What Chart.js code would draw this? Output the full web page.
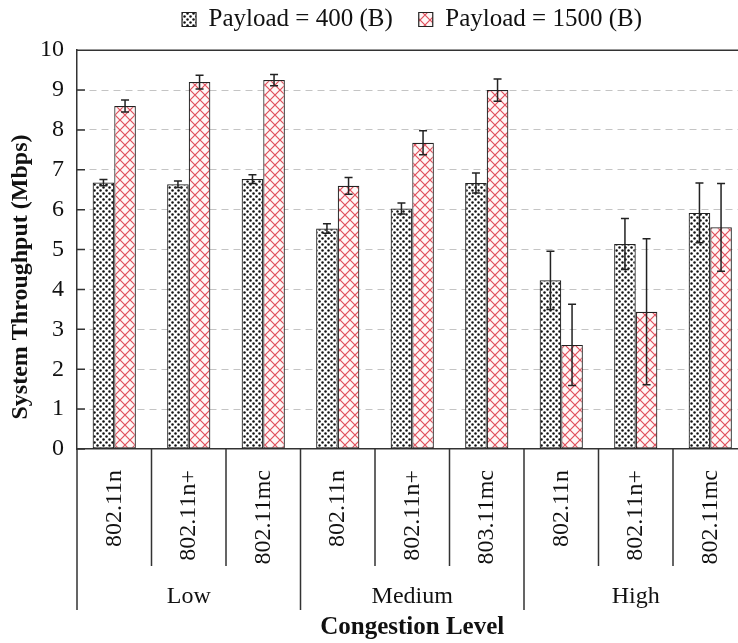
<!DOCTYPE html>
<html>
<head>
<meta charset="utf-8">
<script src="https://cdn.jsdelivr.net/npm/chart.js@4.4.1/dist/chart.umd.min.js"></script>
<style>
  html, body { margin: 0; padding: 0; overflow: hidden; background: #fff; }
</style>
</head>
<body>
<canvas id="tputChart" width="824" height="643"></canvas>
<script>
// categories (note: the original figure really says 803.11mc)
const protocols = ['802.11n', '802.11n+', '802.11mc', '802.11n', '802.11n+', '803.11mc', '802.11n', '802.11n+', '802.11mc'];
const congestionLevels = ['Low', 'Medium', 'High'];

// throughput (Mbps) and error bars
const payload400 = [6.68, 6.64, 6.77, 5.53, 6.03, 6.67, 4.23, 5.14, 5.92];
const err400 = [0.08, 0.08, 0.11, 0.12, 0.14, 0.25, 0.73, 0.64, 0.75];
const payload1500 = [8.6, 9.2, 9.25, 6.6, 7.68, 9.0, 2.61, 3.44, 5.56];
const err1500 = [0.15, 0.17, 0.14, 0.21, 0.3, 0.28, 1.02, 1.83, 1.1];

const yTicks = [0, 1, 2, 3, 4, 5, 6, 7, 8, 9, 10];

const serif = "'Liberation Serif', 'Times New Roman', serif";
Chart.defaults.font.family = serif;
Chart.defaults.color = '#111';

// stipple pattern for the 400 B bars
function dotPattern() {
    const c = document.createElement('canvas');
    c.width = 6; c.height = 6;
    const g = c.getContext('2d');
    g.fillStyle = '#fff';
    g.fillRect(0, 0, 6, 6);
    g.fillStyle = '#111';
    [[1.5, 1.5], [4.5, 4.5]].forEach(([x, y]) => {
        g.beginPath();
        g.arc(x, y, 1.25, 0, Math.PI * 2);
        g.fill();
    });
    return g.createPattern(c, 'repeat');
}

// red cross-hatch for the 1500 B bars
function hatchPattern() {
    const s = 10;
    const c = document.createElement('canvas');
    c.width = s; c.height = s;
    const g = c.getContext('2d');
    g.fillStyle = '#fff7f7';
    g.fillRect(0, 0, s, s);
    g.strokeStyle = '#e0505c';
    g.lineWidth = 1.2;
    g.beginPath();
    g.moveTo(0, 0); g.lineTo(s, s);
    g.moveTo(s, 0); g.lineTo(0, s);
    g.stroke();
    return g.createPattern(c, 'repeat');
}

// error bars on top of each bar
const errorBars = {
    id: 'errorBars',
    afterDatasetsDraw(chart) {
        const ctx = chart.ctx;
        const y = chart.scales.y;
        [err400, err1500].forEach((errs, di) => {
            const vals = chart.data.datasets[di].data;
            chart.getDatasetMeta(di).data.forEach((bar, i) => {
                const top = y.getPixelForValue(vals[i] + errs[i]);
                const bot = y.getPixelForValue(vals[i] - errs[i]);
                ctx.save();
                ctx.strokeStyle = '#222';
                ctx.lineWidth = 1.5;
                ctx.beginPath();
                ctx.moveTo(bar.x, top); ctx.lineTo(bar.x, bot);
                ctx.moveTo(bar.x - 4, top); ctx.lineTo(bar.x + 4, top);
                ctx.moveTo(bar.x - 4, bot); ctx.lineTo(bar.x + 4, bot);
                ctx.stroke();
                ctx.restore();
            });
        });
    }
};

// table-like x axis, top border, inner ticks and the y title
const axisFrame = {
    id: 'axisFrame',
    afterDraw(chart) {
        const ctx = chart.ctx;
        const x = chart.scales.x;
        const y = chart.scales.y;
        const area = chart.chartArea;
        const step = x.getPixelForValue(1) - x.getPixelForValue(0);
        ctx.save();
        ctx.strokeStyle = '#333';
        ctx.lineWidth = 1.5;
        ctx.beginPath();
        // top border
        ctx.moveTo(area.left, area.top); ctx.lineTo(area.right, area.top);
        // inward tick marks
        yTicks.forEach(v => {
            const py = y.getPixelForValue(v);
            ctx.moveTo(area.left, py); ctx.lineTo(area.left + 8, py);
        });
        // category dividers under the axis
        for (let i = 0; i <= protocols.length; i++) {
            const px = x.getPixelForValue(i) - step / 2;
            const len = i % 3 === 0 ? 161 : 117;
            ctx.moveTo(px, area.bottom); ctx.lineTo(px, area.bottom + len);
        }
        ctx.stroke();

        // group labels
        ctx.fillStyle = '#111';
        ctx.font = '24px ' + serif;
        ctx.textAlign = 'center';
        ctx.textBaseline = 'middle';
        congestionLevels.forEach((lvl, gi) => {
            const cx = (x.getPixelForValue(gi * 3) + x.getPixelForValue(gi * 3 + 2)) / 2;
            ctx.fillText(lvl, cx, area.bottom + 148);
        });

        // y axis title
        ctx.font = 'bold 24px ' + serif;
        ctx.translate(21, 277);
        ctx.rotate(-Math.PI / 2);
        ctx.fillText('System Throughput (Mbps)', 0, 0);
        ctx.restore();
    }
};

const ctx = document.getElementById('tputChart').getContext('2d');
new Chart(ctx, {
    type: 'bar',
    data: {
        labels: protocols,
        datasets: [{
            label: 'Payload = 400 (B)',
            data: payload400,
            backgroundColor: dotPattern(),
            borderColor: '#222',
            borderWidth: 1.2,
            borderSkipped: false
        }, {
            label: 'Payload = 1500 (B)',
            data: payload1500,
            backgroundColor: hatchPattern(),
            borderColor: '#222',
            borderWidth: 1.2,
            borderSkipped: false
        }]
    },
    options: {
        responsive: false,
        animation: false,
        devicePixelRatio: 1,
        layout: { padding: { top: -19 } },
        datasets: {
            bar: { categoryPercentage: 0.58, barPercentage: 1.0 }
        },
        plugins: {
            tooltip: { enabled: false },
            legend: {
                position: 'top',
                labels: {
                    boxWidth: 14,
                    boxHeight: 14,
                    padding: 26,
                    color: '#111',
                    font: { size: 25 }
                }
            },
            // empty spacer between legend and plot
            subtitle: {
                display: true,
                text: '',
                weight: 500,
                font: { size: 1 },
                padding: { top: 0, bottom: 7 }
            }
        },
        scales: {
            x: {
                grid: { display: false },
                border: { color: '#333', width: 1.5 },
                ticks: {
                    autoSkip: false,
                    minRotation: 90,
                    maxRotation: 90,
                    padding: 13,
                    color: '#111',
                    font: { size: 24 }
                },
                title: {
                    display: true,
                    text: 'Congestion Level',
                    color: '#111',
                    font: { size: 25, weight: 'bold' },
                    padding: { top: 0, bottom: 0 }
                },
                afterFit(s) { s.height = 194; }
            },
            y: {
                min: 0,
                max: 10,
                afterBuildTicks(s) { s.ticks = yTicks.map(v => ({ value: v })); },
                grid: {
                    color: c => (c.tick && (c.tick.value === 0 || c.tick.value === 10)) ? 'rgba(0,0,0,0)' : '#c4c4c4',
                    lineWidth: 1,
                    drawTicks: false
                },
                border: { color: '#333', width: 1.5, dash: [7, 5] },
                ticks: {
                    padding: 13,
                    color: '#111',
                    font: { size: 24 }
                },
                afterFit(s) { s.width = 77; }
            },
            yPad: {
                type: 'linear',
                position: 'right',
                grid: { display: false },
                border: { display: false },
                ticks: { display: false },
                afterFit(s) { s.width = 76.5; }
            }
        }
    },
    plugins: [errorBars, axisFrame]
});
</script>
</body>
</html>
